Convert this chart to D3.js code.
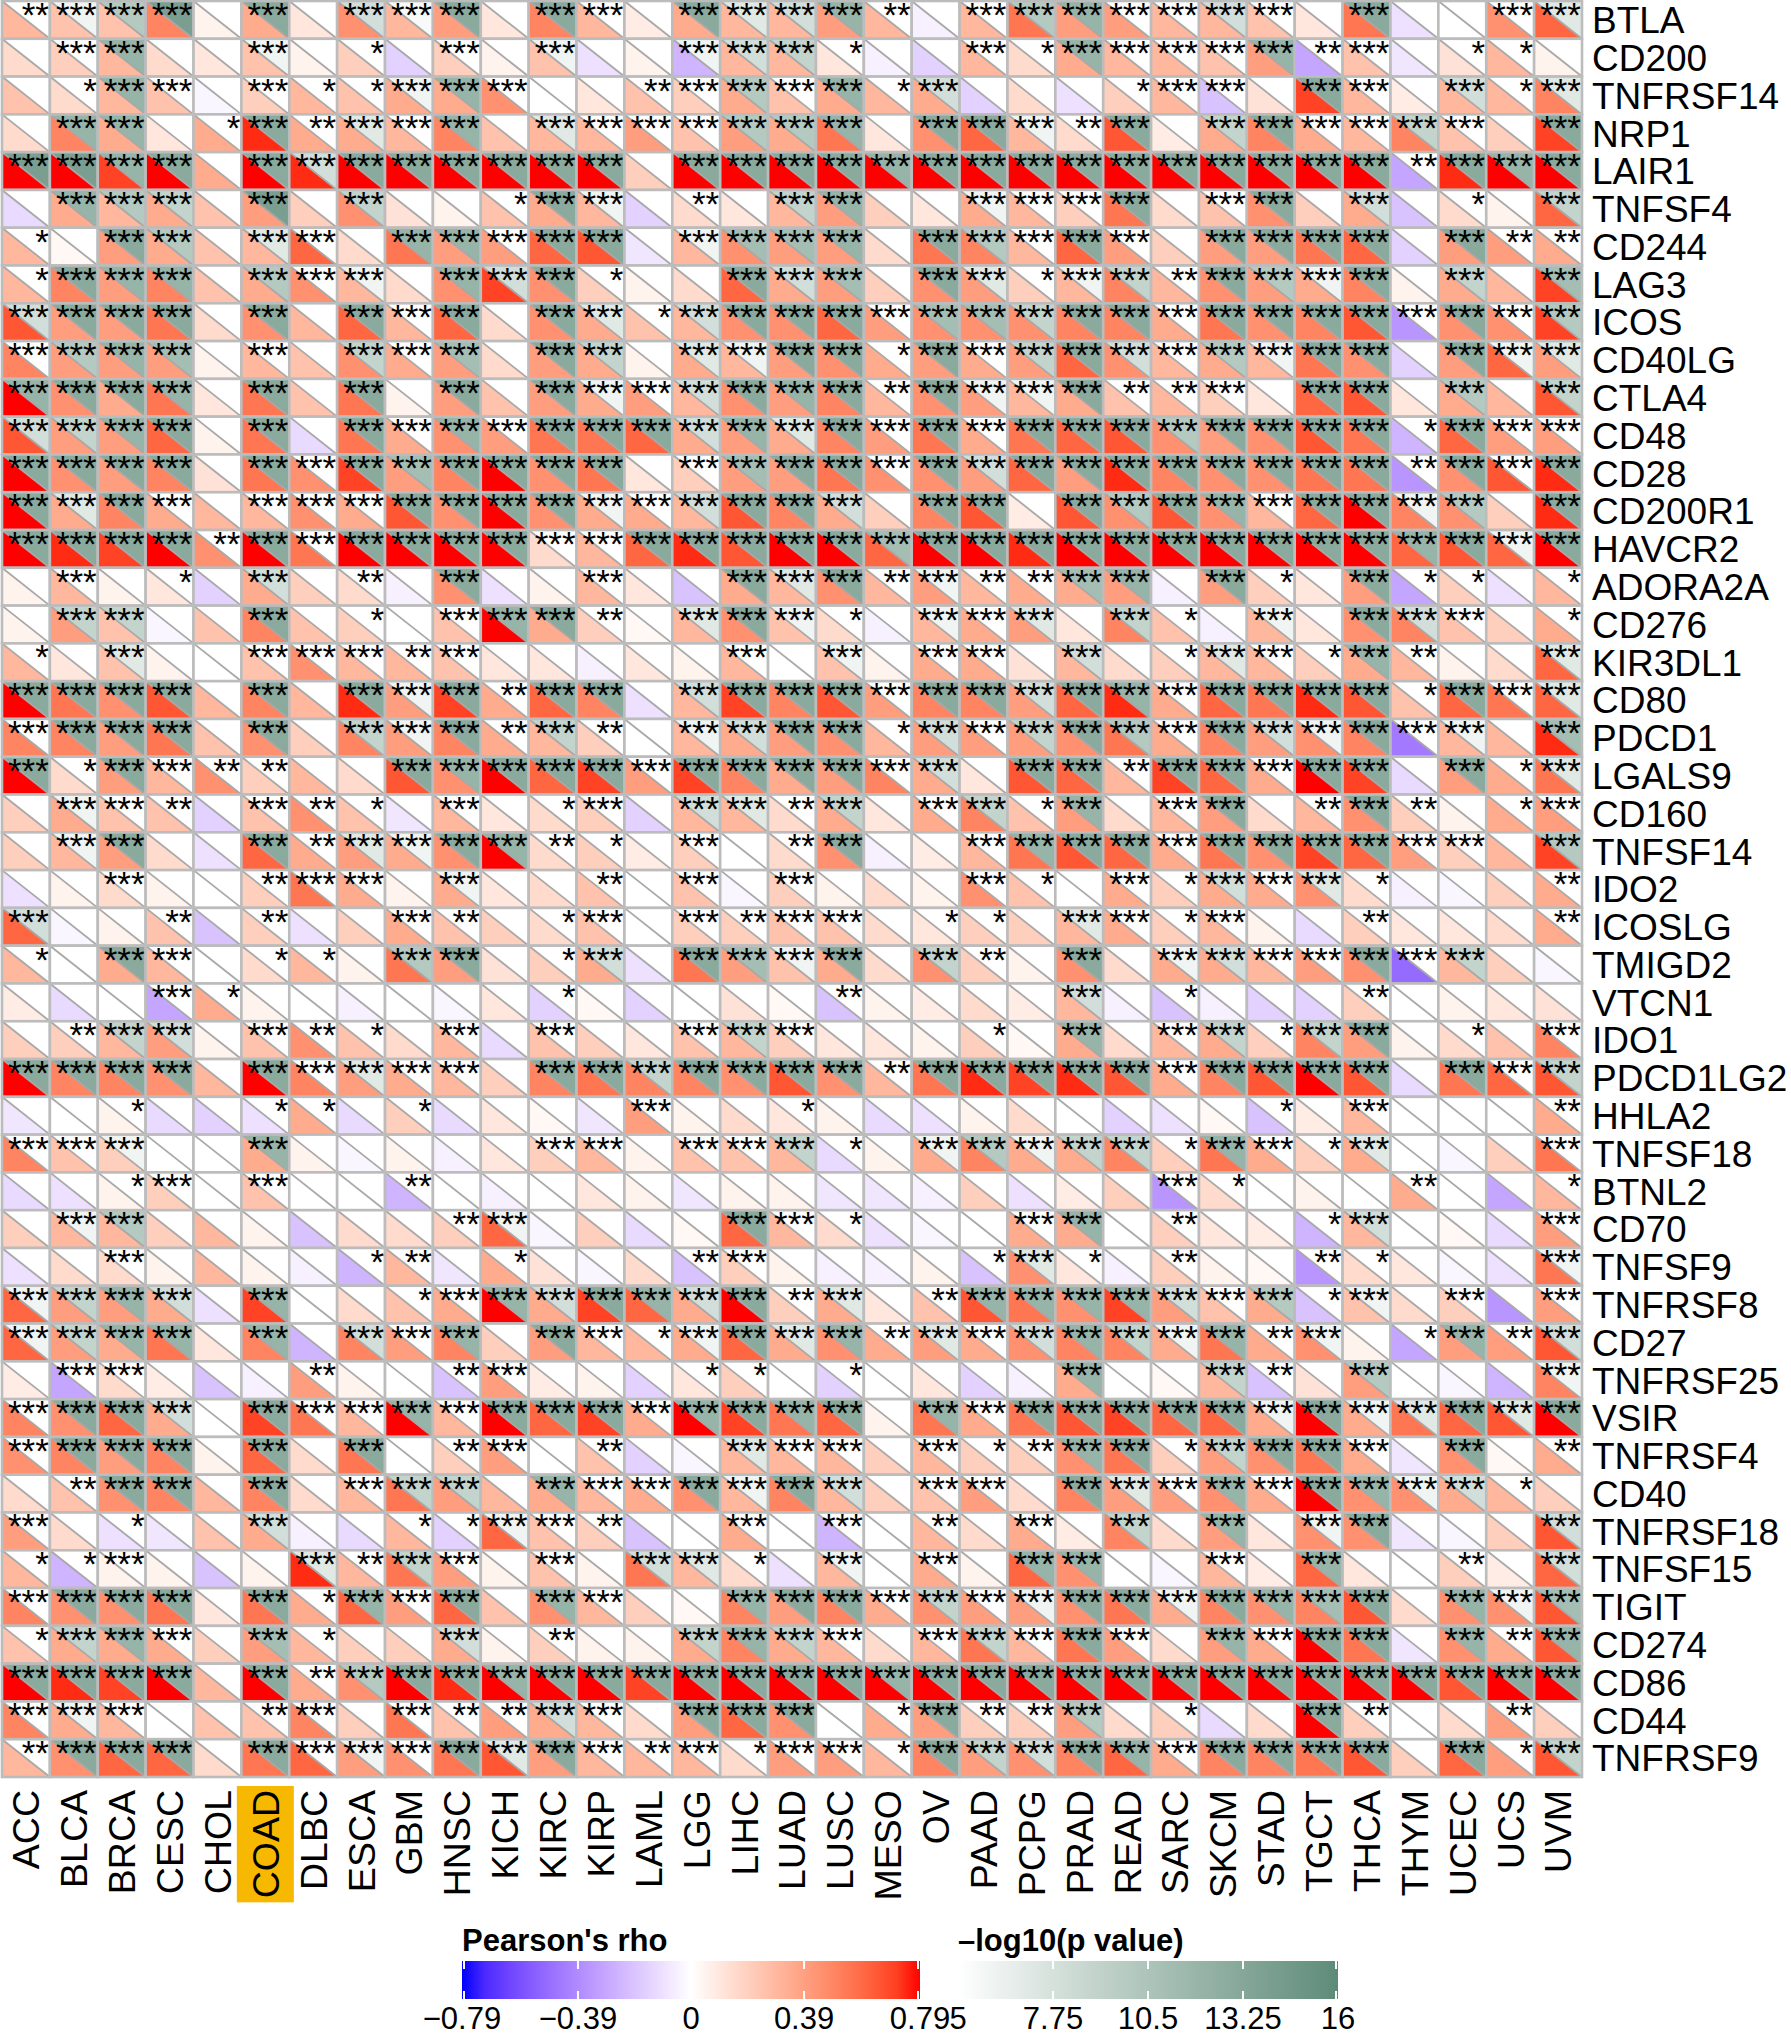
<!DOCTYPE html>
<html>
<head>
<meta charset="utf-8">
<script src="https://cdn.jsdelivr.net/npm/d3@7"></script>
<style>
  body { margin: 0; background: #fff; }
  text { font-family: "Liberation Sans", Arial, Helvetica, sans-serif; }
</style>
</head>
<body>
<script>
// tumour types (columns) and checkpoint genes (rows)
var cancers = ["ACC","BLCA","BRCA","CESC","CHOL","COAD","DLBC","ESCA","GBM","HNSC","KICH",
  "KIRC","KIRP","LAML","LGG","LIHC","LUAD","LUSC","MESO","OV","PAAD","PCPG",
  "PRAD","READ","SARC","SKCM","STAD","TGCT","THCA","THYM","UCEC","UCS","UVM"];

var genes = ["BTLA","CD200","TNFRSF14","NRP1","LAIR1","TNFSF4","CD244","LAG3","ICOS","CD40LG",
  "CTLA4","CD48","CD28","CD200R1","HAVCR2","ADORA2A","CD276","KIR3DL1","CD80","PDCD1",
  "LGALS9","CD160","TNFSF14","IDO2","ICOSLG","TMIGD2","VTCN1","IDO1","PDCD1LG2","HHLA2",
  "TNFSF18","BTNL2","CD70","TNFSF9","TNFRSF8","CD27","TNFRSF25","VSIR","TNFRSF4","CD40",
  "TNFRSF18","TNFSF15","TIGIT","CD274","CD86","CD44","TNFRSF9"];

var highlight = "COAD";

// Pearson's rho, one row per gene (columns in cancers order)
var rho = [
  [.3,.25,.25,.5,.05,.35,.1,.45,.3,.4,.1, .5,.3,.08,.35,.3,.3,.4,.3,-.05,.3,.55, .4,.4,.3,.3,.25,.1,.55,-.1,0,.45,.6],
  [.15,.2,.3,.15,.1,.25,.05,.2,-.15,.2,.05, .25,-.1,.05,-.25,.3,.3,.1,-.05,-.15,.3,.15, .35,.3,.3,.25,.4,-.3,.25,-.08,.12,.3,.05],
  [.25,.15,.3,.25,-.03,.2,.3,.25,.35,.35,.45, 0,.1,.25,.2,.35,.25,.35,.3,.35,-.15,.15, -.1,.2,.3,-.2,.12,.7,.3,.08,.3,.3,.5],
  [.15,.5,.35,.1,.35,.75,.35,.35,.3,.5,.25, .3,.3,.4,.25,.4,.35,.55,.1,.45,.6,.3, .15,.65,.08,.35,.5,.35,.3,.5,.25,.2,.7],
  [.8,.8,.7,.8,.35,.8,.75,.8,.8,.8,.8, .8,.8,.2,.8,.8,.8,.8,.8,.8,.8,.8, .8,.8,.8,.8,.8,.8,.8,-.3,.75,.8,.8],
  [-.12,.35,.3,.35,.25,.4,.2,.45,.12,.05,.25, .35,.3,-.15,.15,.1,.3,.4,.2,.1,.35,.3, .2,.55,.15,.25,.45,.2,.35,-.2,.15,.05,.6],
  [.3,.03,.4,.35,.25,.3,.6,.15,.55,.4,.4, .6,.65,-.08,.3,.45,.4,.4,.15,.55,.5,.3, .6,.4,.2,.4,.4,.55,.6,-.15,.4,.4,.35],
  [.3,.5,.4,.5,.25,.35,.45,.3,.15,.45,.7, .45,.2,.05,.15,.6,.35,.4,.2,.45,.4,.2, .3,.5,.3,.45,.4,.35,.5,.05,.35,.3,.7],
  [.65,.4,.4,.55,.15,.45,.3,.6,.3,.6,.15, .45,.35,.25,.3,.45,.45,.6,.4,.45,.45,.45, .5,.5,.35,.55,.45,.5,.65,-.35,.45,.45,.7],
  [.5,.4,.4,.4,.05,.3,.25,.45,.35,.4,.15, .4,.35,.05,.35,.3,.4,.45,.35,.4,.35,.4, .6,.45,.3,.35,.3,.55,.45,-.15,.4,.6,.4],
  [.8,.45,.35,.55,.1,.55,.25,.55,.05,.4,.25, .4,.35,.4,.3,.45,.4,.5,.3,.45,.4,.3, .35,.25,.3,.2,.1,.6,.65,.1,.35,.3,.65],
  [.65,.4,.4,.6,.05,.55,-.12,.55,.35,.45,.4, .55,.55,.6,.35,.4,.35,.5,.4,.55,.35,.55, .6,.65,.45,.4,.45,.65,.55,-.25,.6,.4,.4],
  [.8,.45,.4,.5,.12,.55,.45,.7,.4,.5,.8, .45,.55,.1,.2,.4,.4,.55,.45,.45,.4,.6, .4,.75,.5,.45,.45,.55,.55,-.35,.45,.65,.75],
  [.8,.35,.5,.35,.3,.3,.45,.35,.65,.45,.8, .45,.35,.35,.3,.65,.5,.35,.2,.5,.65,.08, .65,.45,.65,.45,.3,.6,.8,.5,.45,.2,.75],
  [.8,.75,.7,.8,.45,.8,.55,.8,.8,.8,.8, .15,.3,.6,.75,.65,.8,.8,.6,.8,.8,.75, .8,.8,.8,.8,.8,.8,.8,.6,.65,.6,.8],
  [.05,.3,.05,.1,-.15,.35,.2,.15,-.05,.45,-.1, .05,.3,.1,-.2,.35,.3,.45,.3,.4,.3,.35, .35,.4,-.05,.4,.2,.1,.4,-.3,.2,-.1,.3],
  [.05,.4,.25,-.03,.25,.5,.25,.2,0,.25,.8, .35,.2,.03,.3,.45,.25,.15,-.05,.3,.35,.4, .1,.5,.25,-.05,.3,.1,.45,.5,.25,.2,.35],
  [.3,.1,.25,.05,0,.25,.45,.3,.3,.25,.1, .1,-.05,.1,.05,.3,0,.25,.05,.35,.35,.12, .3,.15,.2,.3,.3,.2,.35,.3,.05,.15,.6],
  [.8,.55,.45,.65,.3,.5,.3,.75,.4,.7,.35, .6,.5,-.1,.3,.7,.5,.65,.4,.5,.5,.4, .6,.75,.35,.6,.55,.75,.65,.25,.6,.55,.6],
  [.5,.5,.4,.55,.25,.45,.2,.5,.4,.5,.35, .3,.2,0,.3,.35,.4,.45,.3,.4,.4,.4, .45,.55,.35,.5,.4,.45,.5,-.45,.3,.3,.75],
  [.8,.15,.4,.3,.45,.2,.3,.15,.65,.45,.8, .6,.7,.4,.7,.5,.35,.4,.5,.35,.1,.65, .6,.3,.7,.6,.35,.8,.7,-.12,.4,.35,.55],
  [.2,.35,.25,.25,-.15,.25,.45,.25,-.08,.3,.1, .15,.2,-.15,.3,.3,.15,.35,.1,.35,.5,.25, .4,.15,.3,.4,.15,.3,.45,.2,.05,.35,.4],
  [.2,.3,.4,.15,-.1,.6,.35,.4,.35,.45,.8, .15,.2,.08,.2,0,.15,.45,-.05,.08,.3,.55, .65,.6,.35,.55,.45,.7,.6,.4,.2,.3,.7],
  [-.1,.05,.15,.05,0,.2,.55,.35,.05,.35,.1, .15,.25,0,.25,-.03,.2,.05,.15,.05,.45,.25, 0,.35,.2,.35,.35,.45,.15,-.05,-.03,.2,.35],
  [.6,-.03,.05,.25,-.2,.2,-.1,.2,.35,.25,.2, .15,.25,0,.2,.2,.25,.25,.15,.1,.2,.2, .3,.35,.2,.3,.05,-.12,.2,.1,.1,.15,.35],
  [.3,0,.35,.3,0,.15,.3,.05,.55,.4,.12, .2,.35,-.1,.55,.4,.25,.35,.15,.45,.2,.05, .45,.15,.35,.35,.3,.4,.45,-.5,.3,.2,-.03],
  [.08,-.12,0,-.3,.35,.05,0,-.05,0,-.03,.1, -.15,.03,-.15,0,.12,.03,-.2,.05,.08,.15,.08, .3,-.05,-.2,-.05,-.15,-.15,.2,0,.05,.1,.12],
  [.2,.2,.3,.4,.05,.25,.45,.25,.15,.3,-.12, .25,.2,.1,.25,.3,.2,.1,.1,.05,.2,.03, .35,.15,.3,.35,.2,.5,.4,.05,.15,.25,.5],
  [.8,.5,.5,.45,.3,.8,.5,.4,.35,.3,.2, .5,.55,.5,.5,.45,.65,.45,.3,.55,.75,.7, .75,.65,.35,.5,.65,.8,.65,-.12,.55,.6,.65],
  [-.08,0,.05,-.12,-.15,-.1,.35,-.12,.2,-.12,.1, .03,-.08,.4,.05,.15,.1,.05,-.12,-.1,.05,.15, 0,-.15,-.1,.03,-.2,.08,.3,0,0,0,.35],
  [.5,.25,.2,0,0,.35,.05,-.03,.05,-.05,.1, .2,.3,.05,.25,.25,.3,-.12,.05,.35,.5,.35, .35,.5,.2,.55,.35,.2,.35,0,-.03,.2,.55],
  [-.12,-.1,.05,.2,0,.25,0,0,-.25,0,-.05, 0,.1,.05,-.08,.05,.05,-.08,-.08,-.05,.2,-.1, .08,.2,-.35,.15,0,.05,0,.35,0,-.3,.3],
  [.2,.3,.3,.2,.3,.05,-.2,.15,.15,.2,.6, -.03,.2,-.12,.03,.6,.3,.15,-.1,-.03,0,.35, .35,0,.2,.1,.08,-.25,.3,0,.03,-.12,.4],
  [-.1,.15,.15,.05,.3,.05,-.05,-.25,.3,-.08,.35, .12,-.03,.15,-.2,.2,.05,-.05,-.05,.05,-.2,.45, .1,-.05,.2,.05,.03,-.35,.15,.1,-.03,-.1,.55],
  [.6,.4,.4,.35,-.1,.7,0,.15,.25,.35,.8, .35,.7,.6,.35,.8,.2,.35,.1,.25,.65,.55, .45,.7,.4,.25,.35,-.2,.25,.15,.2,-.35,.4],
  [.6,.4,.35,.55,.1,.5,-.25,.5,.4,.5,.2, .4,.3,.3,.35,.6,.35,.45,.35,.4,.35,.45, .5,.5,.35,.55,.35,.45,.05,-.3,.4,.4,.65],
  [.08,-.3,.15,.08,-.2,-.05,.4,.05,0,-.2,.4, .08,.05,-.15,.1,.2,0,-.15,0,.1,-.15,-.05, .35,0,.03,.3,-.2,.12,.4,0,-.03,-.25,.5],
  [.5,.45,.6,.35,0,.7,.55,.3,.8,.3,.8, .6,.7,.35,.8,.7,.55,.6,.05,.55,.35,.55, .65,.7,.6,.6,.35,.8,.35,.55,.6,.65,.8],
  [.45,.5,.4,.5,.05,.6,.15,.55,0,.2,.4, 0,.25,-.15,-.03,.3,.3,.3,.2,.3,.2,.2, .45,.55,.2,.4,.45,.55,.35,-.08,.45,.03,.35],
  [.15,.25,.45,.5,.3,.5,.15,.3,.55,.4,.3, .35,.3,.35,.45,.3,.5,.3,.2,.25,.4,.15, .5,.4,.4,.45,.35,.8,.45,.45,.35,.3,.2],
  [.4,.15,-.1,-.08,.25,.35,-.05,-.12,.3,-.15,.6, .25,.2,-.2,0,.35,0,-.25,0,.3,.15,.35, .08,.5,.15,.4,.1,.45,.45,-.08,-.03,.2,.65],
  [.3,-.25,.05,.05,-.2,.05,.75,.3,.55,.4,.05, .25,.05,.55,.3,.15,-.1,.3,0,.35,.05,.6, .45,0,-.03,.3,.08,.6,.1,0,.2,.08,.6],
  [.5,.45,.45,.55,.1,.55,.35,.6,.4,.6,.25, .45,.3,.2,.03,.5,.4,.5,.35,.45,.4,.4, .45,.55,.35,.5,.45,.5,.65,.15,.45,.45,.65],
  [.25,.35,.35,.35,.2,.4,.3,.2,.2,.35,.05, .2,.05,.05,.35,.5,.35,.3,.15,.3,.55,.3, .55,.4,.15,.4,.35,.8,.55,-.08,.45,.35,.65],
  [.8,.75,.7,.8,.3,.8,.35,.45,.8,.75,.8, .8,.8,.7,.8,.8,.8,.8,.8,.8,.8,.8, .8,.8,.8,.8,.8,.8,.8,.8,.65,.8,.8],
  [.5,.35,.3,0,.25,.25,.5,.2,.55,.25,.4, .35,.3,.15,.4,.6,.45,0,.35,.4,.2,.2, .4,.15,.2,-.12,.15,.8,.2,0,.15,.4,.2],
  [.3,.45,.6,.6,.15,.55,.6,.4,.45,.55,.65, .4,.3,.3,.3,.15,.4,.4,.3,.5,.4,.45, .5,.6,.35,.5,.5,.55,.65,.2,.6,.4,.65]
];

// -log10(p value), same layout
var logp = [
  [2.5,6,10,14,0,13,0,8,5.5,13,0, 13,4,0,13,7,8,12,2.5,0,4,10, 12,5,4,8,4,0,13,0,0,4,7],
  [0,4,12,0,0,6,0,1.5,0,4,0, 6,0,0,6,8,9,1.5,0,0,4,1.5, 12,4,4,5,12,2.5,4,0,1.5,1.5,0],
  [0,1.5,12,4,0,4,1.5,1.5,6,12,4, 0,0,2.5,5,10,5,12,1.5,8,0,0, 0,1.5,4,4,0,13,5,0,8,1.5,7],
  [0,12,12,0,1.5,13,2.5,7,4,12,0, 7,4,4,4,10,10,12,0,13,13,6, 2.5,13,0,9,13,4,5,9,4,0,13],
  [14,14,12,13,0,13,8,13,13,13,13, 13,13,0,13,13,13,13,12,13,13,13, 13,13,13,13,13,13,13,2.5,13,12,13],
  [0,12,10,9,0,14,0,9,0,0,1.5, 13,6,0,2.5,0,9,12,0,0,6,4, 4,13,0,4,13,0,8,0,1.5,0,9],
  [1.5,0,13,10,0,7,5,0,12,12,4, 13,13,0,6,11,11,12,0,13,10,4, 13,4,0,13,13,13,13,0,13,2.5,2.5],
  [1.5,13,12,12,0,10,4,6,0,12,8, 13,1.5,0,0,13,8,11,0,13,7,1.5, 6,9,2.5,13,10,6,13,0,9,0,11],
  [8,13,13,13,0,13,0,13,5,13,0, 13,7,1.5,8,13,13,13,4,11,11,9, 13,13,5,13,13,13,13,4,13,4,10],
  [5,10,12,11,0,5,0,9,4.5,11,0, 13,9,0,7,6,13,13,1.5,13,5,9, 13,8,4,10,6,13,13,0,13,6,7],
  [12,13,13,12,0,13,0,13,0,13,0, 13,6,4,8,13,12,13,2.5,13,6,6, 13,2.5,2.5,4,0,13,13,0,10,0,9],
  [8,9,12,13,0,13,0,13,5,12,4, 13,13,13,8,12,7,13,4,13,4,13, 13,13,10,13,13,13,13,1.5,13,4,4],
  [13,13,13,13,0,13,5,13,11,13,13, 13,13,0,4,11,13,13,4,13,8,13, 13,13,13,13,13,13,13,2.5,13,5,13],
  [13,7,13,5,0,4,5,5,13,13,13, 13,6,4,8,13,13,8,0,13,13,0, 13,10,13,12,5,13,13,6,10,0,13],
  [13,13,13,13,2.5,13,5,13,13,13,13, 4,4,13,13,13,13,13,11,13,13,13, 13,13,13,13,13,13,13,12,13,6,13],
  [0,4,0,1.5,0,8,0,2.5,0,13,0, 0,4,0,0,13,7,13,2.5,6,2.5,2.5, 11,12,0,13,1.5,0,13,1.5,1.5,0,1.5],
  [0,9,9,0,0,13,0,1.5,0,5,12, 13,2.5,0,7,13,6,1.5,0,6,5,7, 0,9,1.5,0,6,0,13,8,4,0,1.5],
  [1.5,0,7,0,0,4,4,4,2.5,4,0, 0,0,0,0,5,0,6,0,4,4,0, 8,0,1.5,7,4,1.5,12,2.5,0,0,7],
  [13,13,13,13,0,13,0,13,6,13,2.5, 13,13,0,8,13,13,13,4,13,13,8, 13,12,4,13,13,13,13,1.5,13,4,7],
  [5,13,13,13,0,13,0,9,6,13,2.5, 9,2.5,0,6,8,13,13,1.5,8,5,9, 13,10,4,13,8,6,13,4,6,0,11],
  [13,1.5,13,4,2.5,2.5,0,0,13,12,13, 13,13,4,13,13,13,13,5,8,0,13, 13,2.5,13,13,4,13,13,0,13,1.5,7],
  [0,6,4,2.5,0,4,2.5,1.5,0,4,0, 1.5,4,0,8,7,2.5,9,0,4,9,1.5, 12,0,4,13,0,2.5,13,2.5,0,1.5,4],
  [0,6,13,0,0,13,2.5,7,6,13,12, 2.5,1.5,0,4,0,2.5,13,0,0,5,12, 13,13,5,13,13,13,13,4,4,0,10],
  [0,0,4,0,0,2.5,4,4,0,6,0, 0,2.5,0,4,0,4,0,0,0,5,1.5, 0,4,1.5,8,4,7,1.5,0,0,0,2.5],
  [8,0,0,2.5,0,2.5,0,0,4,2.5,0, 1.5,4,0,4,2.5,4,4,0,1.5,1.5,0, 7,4,1.5,4,0,0,2.5,0,0,0,2.5],
  [1.5,0,13,4,0,1.5,1.5,0,10,13,0, 1.5,8,0,13,11,6,13,0,9,2.5,0, 13,0,6,8,4,4,13,4,9,0,0],
  [0,0,0,4,1.5,0,0,0,0,0,0, 1.5,0,0,0,0,0,2.5,0,0,0,0, 8,0,1.5,0,0,0,2.5,0,0,0,0],
  [0,2.5,9,8,0,4,2.5,1.5,0,4,0, 5,0,0,5,9,4,0,0,0,1.5,0, 12,0,4,9,1.5,9,13,0,1.5,0,5],
  [13,13,13,13,0,13,4,7,4,4,0, 13,13,9,13,13,13,13,2.5,13,13,13, 13,13,4,13,13,13,13,0,13,5,9],
  [0,0,1.5,0,0,1.5,1.5,0,1.5,0,0, 0,0,4,0,0,1.5,0,0,0,0,0, 0,0,0,0,1.5,0,4,0,0,0,2.5],
  [5,4,6,0,0,12,0,0,0,0,0, 4,4,0,5,5,9,1.5,0,6,10,6, 9,9,1.5,12,4,1.5,7,0,0,0,5],
  [0,0,1.5,4,0,5,0,0,2.5,0,0, 0,0,0,0,0,0,0,0,0,0,0, 0,0,4,1.5,0,0,0,2.5,0,0,1.5],
  [0,6,10,0,0,0,0,0,0,2.5,6, 0,0,0,0,13,4,1.5,0,0,0,4, 12,0,2.5,0,0,1.5,8,0,0,0,4],
  [0,0,4,0,0,0,0,1.5,2.5,0,1.5, 0,0,0,2.5,4,0,0,0,0,1.5,7, 1.5,0,2.5,0,0,2.5,1.5,0,0,0,6],
  [6,9,12,8,0,12,0,0,1.5,5,12, 8,13,12,8,13,2.5,7,0,2.5,12,12, 12,12,8,4,10,1.5,6,0,5,0,4],
  [6,9,12,12,0,12,0,8,5,12,0, 13,4,1.5,6,13,7,12,2.5,7,4,8, 12,9,6,12,2.5,6,0,1.5,12,2.5,8],
  [0,4,4,0,0,0,2.5,0,0,2.5,4, 0,0,0,1.5,1.5,0,1.5,0,0,0,0, 12,0,0,9,2.5,0,10,0,0,0,6],
  [5,13,13,8,0,13,4,4,12,5,13, 13,13,4,12,13,12,13,0,12,5,13, 13,13,13,13,6,13,6,7,13,7,13],
  [4,13,13,13,0,13,0,13,0,2.5,4, 0,2.5,0,0,7,5,4,0,4,1.5,2.5, 12,13,1.5,9,13,13,5,0,13,0,2.5],
  [0,2.5,13,13,0,13,0,5,9,9,0, 12,4,4,13,6,13,8,0,4,4,0, 13,7,4,12,4,13,12,6,8,1.5,0],
  [4,0,1.5,0,0,8,0,0,1.5,1.5,6, 4,2.5,0,0,4,0,4,0,2.5,0,4, 0,9,0,12,0,6,13,0,0,0,8],
  [1.5,1.5,4,0,0,0,7,2.5,9,4,0, 4,0,8,7,1.5,0,6,0,5,0,12, 12,0,0,4,0,12,0,0,2.5,0,8],
  [4,13,13,13,0,13,1.5,12,5,13,0, 12,5,0,0,12,13,13,4,9,5,6, 13,13,6,13,12,11,13,0,12,6,11],
  [1.5,9,12,4,0,11,1.5,0,0,8,0, 2.5,0,0,9,12,9,5,0,5,9,4, 13,5,0,12,4,13,13,0,12,2.5,12],
  [13,13,13,13,0,13,2.5,10,13,13,12, 13,13,13,13,13,13,13,12,13,13,13, 13,13,13,13,13,13,13,13,13,13,13],
  [4,6,4,0,0,2.5,4,0,4,2.5,2.5, 8,4,0,13,13,13,0,1.5,13,2.5,2.5, 10,0,1.5,0,0,13,2.5,0,0,2.5,0],
  [2.5,13,13,13,0,13,5,6,4,13,7, 13,4,2.5,4,1.5,4,4,1.5,13,9,8, 13,12,5,13,13,13,13,0,13,1.5,9]
];

var rhoTicks = [-0.79, -0.39, 0, 0.39, 0.79];
var pTicks = [5, 7.75, 10.5, 13.25, 16];

// significance stars from the p value
function stars(v) {
  if (v > 3) return "***";
  if (v > 2) return "**";
  if (v > 1.3) return "*";
  return "";
}

var svg = d3.select("body").append("svg")
    .attr("width", 1791)
    .attr("height", 2033);

// grid scales
var x = d3.scaleBand().domain(cancers).range([2, 1582]);
var y = d3.scaleBand().domain(genes).range([1, 1777]);
var w = x.bandwidth(), h = y.bandwidth();

var rhoColor = d3.scaleLinear()
    .domain([-0.79, 0, 0.79])
    .range(["#0000ff", "#ffffff", "#ff0000"])
    .interpolate(d3.interpolateLab)
    .clamp(true);

var pColor = d3.scaleLinear()
    .domain([5, 16])
    .range(["#ffffff", "#5e8b79"])
    .interpolate(d3.interpolateLab)
    .clamp(true);

var cells = [];
genes.forEach(function(g, i) {
  cancers.forEach(function(c, j) {
    cells.push({gene: g, cancer: c, rho: rho[i][j], p: logp[i][j]});
  });
});

var cell = svg.append("g").selectAll("g")
    .data(cells)
    .join("g")
    .attr("transform", function(d) { return "translate(" + x(d.cancer) + "," + y(d.gene) + ")"; });

// lower-left triangle: rho
cell.append("path")
    .attr("d", "M0,0L0," + h + "L" + w + "," + h + "Z")
    .attr("fill", function(d) { return rhoColor(d.rho); });

// upper-right triangle: -log10 p
cell.append("path")
    .attr("d", "M0,0L" + w + ",0L" + w + "," + h + "Z")
    .attr("fill", function(d) { return d.p < 5 ? "#ffffff" : pColor(d.p); });

cell.append("line")
    .attr("x1", 0).attr("y1", 0)
    .attr("x2", w).attr("y2", h)
    .attr("stroke", "#a8a8a8")
    .attr("stroke-width", 1.8);

cell.append("rect")
    .attr("width", w).attr("height", h)
    .attr("fill", "none")
    .attr("stroke", "#bcbcbc")
    .attr("stroke-width", 2.6);

// stars on top of everything
svg.append("g").selectAll("text")
    .data(cells.filter(function(d) { return stars(d.p) !== ""; }))
    .join("text")
    .attr("x", function(d) { return x(d.cancer) + w - 1; })
    .attr("y", function(d) { return y(d.gene) + 26; })
    .attr("text-anchor", "end")
    .attr("font-size", 35)
    .attr("fill", "#000")
    .text(function(d) { return stars(d.p); });

// row labels
svg.append("g").selectAll("text")
    .data(genes)
    .join("text")
    .attr("x", 1592)
    .attr("y", function(d) { return y(d) + h / 2 + 13.3; })
    .attr("font-size", 37)
    .text(function(d) { return d; });

// column labels, rotated
var colFont = 37.5;
var colTop = 1790;
var colG = svg.append("g");
var colLabels = colG.selectAll("text")
    .data(cancers)
    .join("text")
    .attr("transform", function(d) {
      return "translate(" + (x(d) + w / 2 + 0.358 * colFont) + "," + colTop + ") rotate(-90)";
    })
    .attr("text-anchor", "end")
    .attr("font-size", colFont)
    .text(function(d) { return d; });

// highlight box behind COAD
var hl = colLabels.filter(function(d) { return d === highlight; });
var hlLen = hl.node().getComputedTextLength();
colG.insert("rect", "text")
    .attr("x", x(highlight) + w / 2 - 28.5)
    .attr("y", colTop - 4)
    .attr("width", 57)
    .attr("height", hlLen + 8)
    .attr("fill", "#f6b800");

// legends
var defs = svg.append("defs");

function gradient(id, scale, domain, fillFn) {
  var g = defs.append("linearGradient").attr("id", id)
      .attr("x1", "0%").attr("x2", "100%").attr("y1", "0%").attr("y2", "0%");
  var steps = d3.range(0, 1.0001, 0.05);
  g.selectAll("stop").data(steps).join("stop")
      .attr("offset", function(t) { return (t * 100) + "%"; })
      .attr("stop-color", function(t) { return fillFn(domain[0] + t * (domain[1] - domain[0])); });
}

gradient("rhoGrad", null, [-0.79, 0.79], rhoColor);
gradient("pGrad", null, [5, 16], pColor);

var barTop = 1961, barH = 38;
var rhoX = d3.scaleLinear().domain([-0.79, 0.79]).range([462, 920]);
var pX = d3.scaleLinear().domain([5, 16]).range([958, 1338]);

function legend(scale, ticks, grad, title, fmt) {
  var g = svg.append("g");
  var r = scale.range();
  g.append("text")
      .attr("x", r[0])
      .attr("y", 1951)
      .attr("font-size", 31)
      .attr("font-weight", "bold")
      .text(title);
  g.append("rect")
      .attr("x", r[0]).attr("y", barTop)
      .attr("width", r[1] - r[0]).attr("height", barH)
      .attr("fill", "url(#" + grad + ")");
  ticks.forEach(function(t) {
    var tx = Math.min(Math.max(scale(t), r[0] + 2), r[1] - 2);
    g.append("line")
        .attr("x1", tx).attr("x2", tx)
        .attr("y1", barTop).attr("y2", barTop + 8)
        .attr("stroke", "#fff").attr("stroke-width", 2);
    g.append("line")
        .attr("x1", tx).attr("x2", tx)
        .attr("y1", barTop + barH - 8).attr("y2", barTop + barH)
        .attr("stroke", "#fff").attr("stroke-width", 2);
    g.append("text")
        .attr("x", scale(t))
        .attr("y", 2029)
        .attr("text-anchor", "middle")
        .attr("font-size", 31)
        .text(fmt(t));
  });
}

legend(rhoX, rhoTicks, "rhoGrad", "Pearson's rho", function(t) { return t < 0 ? "\u2212" + (-t) : String(t); });
legend(pX, pTicks, "pGrad", "\u2013log10(p value)", function(t) { return String(t); });
</script>
</body>
</html>
